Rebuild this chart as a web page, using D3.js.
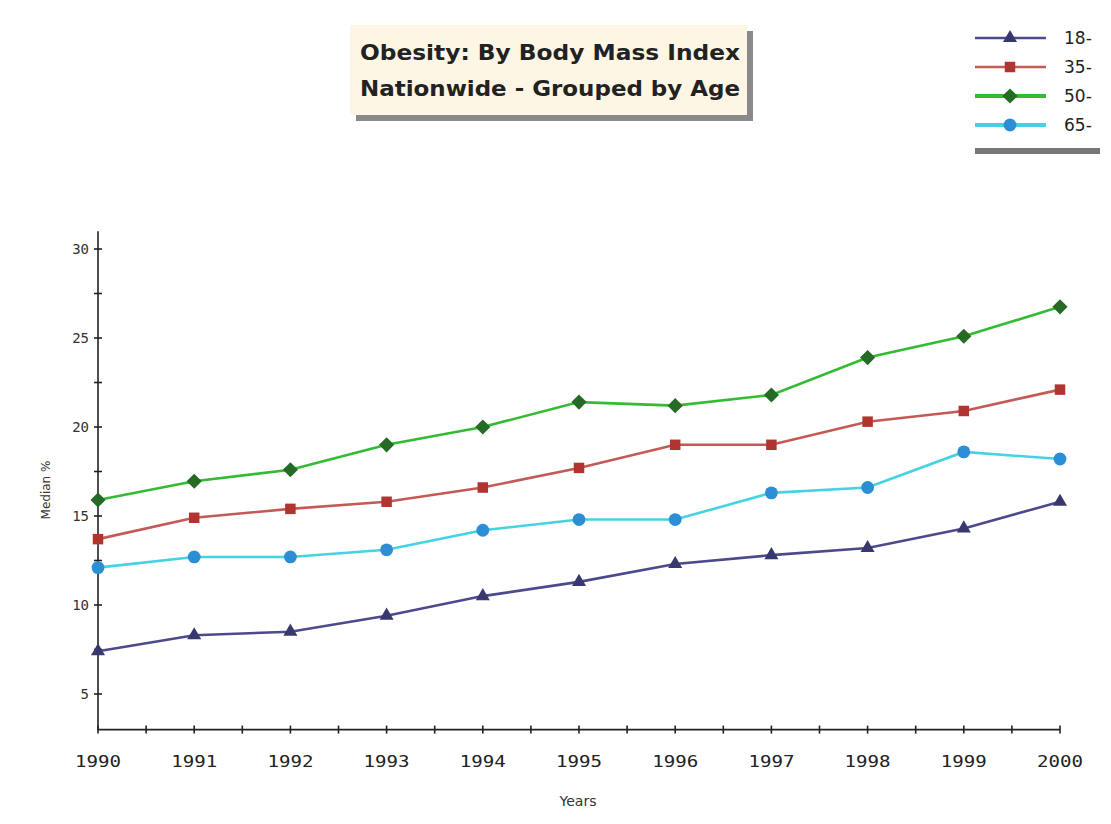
<!DOCTYPE html>
<html><head><meta charset="utf-8">
<script src="https://cdn.jsdelivr.net/npm/d3@7"></script>
<style>body{margin:0;background:#fff}svg{display:block}</style>
</head><body><svg id="c" width="1111" height="824"></svg>
<script>
const years = [1990,1991,1992,1993,1994,1995,1996,1997,1998,1999,2000];
const age18 = [7.4,8.3,8.5,9.4,10.5,11.3,12.3,12.8,13.2,14.3,15.8];
const age35 = [13.7,14.9,15.4,15.8,16.6,17.7,19.0,19.0,20.3,20.9,22.1];
const age50 = [15.9,16.95,17.6,19.0,20.0,21.4,21.2,21.8,23.9,25.1,26.75];
const age65 = [12.1,12.7,12.7,13.1,14.2,14.8,14.8,16.3,16.6,18.6,18.2];
const seriesNames = ["18-","35-","50-","65-"];
const yTicks = [5,10,15,20,25,30];
const titleLines = ["Obesity: By Body Mass Index","Nationwide - Grouped by Age"];

const series = [
  {name:seriesNames[0], values:age18, line:"#4b4a8c", mark:"#38376e", sym:d3.symbolTriangle, size:85, rot:0},
  {name:seriesNames[1], values:age35, line:"#c45a55", mark:"#b0342f", sym:d3.symbolSquare, size:110, rot:0},
  {name:seriesNames[2], values:age50, line:"#33bb33", mark:"#256b25", sym:d3.symbolSquare, size:115, rot:45},
  {name:seriesNames[3], values:age65, line:"#45d3e3", mark:"#2c8fd6", sym:d3.symbolCircle, size:130, rot:0}
];

const svg = d3.select("#c");
const x = d3.scaleLinear().domain([1990,2000]).range([98,1060]);
const y = d3.scaleLinear().domain([3,31]).range([729.6,231.2]);

// axes
const ax = svg.append("g").attr("stroke","#222").attr("stroke-width",1.6);
ax.append("line").attr("x1",x(1990)).attr("x2",x(2000)).attr("y1",y(3)).attr("y2",y(3));
ax.append("line").attr("x1",x(1990)).attr("x2",x(1990)).attr("y1",y(3)).attr("y2",y(31));
const xt = d3.range(1990,2000.01,0.5);
ax.selectAll(".xt").data(xt).join("line")
  .attr("x1",d=>x(d)).attr("x2",d=>x(d)).attr("y1",y(3)-4).attr("y2",y(3)+4);
const yt = d3.range(5,30.01,2.5);
ax.selectAll(".yt").data(yt).join("line")
  .attr("x1",x(1990)-4).attr("x2",x(1990)+4).attr("y1",d=>y(d)).attr("y2",d=>y(d));

svg.selectAll(".xl").data(years).join("text")
  .attr("x",d=>x(d)).attr("y",767).attr("text-anchor","middle")
  .attr("font-family","DejaVu Sans Mono").attr("font-size",16).attr("fill","#222")
  .attr("textLength",46).attr("lengthAdjust","spacingAndGlyphs")
  .text(d=>d);
svg.selectAll(".yl").data(yTicks).join("text")
  .attr("x",x(1990)-9).attr("y",d=>y(d)+5).attr("text-anchor","end")
  .attr("font-family","DejaVu Sans Mono").attr("font-size",14).attr("fill","#333")
  .text(d=>d);
svg.append("text").attr("x",578).attr("y",806).attr("text-anchor","middle")
  .attr("font-family","DejaVu Sans").attr("font-size",14).attr("fill","#333").text("Years");
svg.append("text").attr("transform","translate(50,490) rotate(-90)").attr("text-anchor","middle")
  .attr("font-family","DejaVu Sans").attr("font-size",12).attr("fill","#333").text("Median %");

// lines
const line = d3.line().x((d,i)=>x(years[i])).y(d=>y(d));
series.forEach(s=>{
  svg.append("path").attr("d",line(s.values)).attr("fill","none")
    .attr("stroke",s.line).attr("stroke-width",2.6);
  svg.selectAll(null).data(s.values).join("path")
    .attr("transform",(d,i)=>`translate(${x(years[i])},${y(d)}) rotate(${s.rot})`)
    .attr("d",d3.symbol().type(s.sym).size(s.size))
    .attr("fill",s.mark);
});

// title box
const tb = svg.append("g");
tb.append("rect").attr("x",356).attr("y",31).attr("width",397).attr("height",90).attr("fill","#8a8a8a");
tb.append("rect").attr("x",350).attr("y",25).attr("width",397).attr("height",90).attr("fill","#fdf6e4");
titleLines.forEach((t,i)=>{
  tb.append("text").attr("x",360).attr("y",60+i*36)
    .attr("font-family","DejaVu Sans").attr("font-weight","bold").attr("font-size",21)
    .attr("fill","#222").attr("textLength",380).attr("lengthAdjust","spacingAndGlyphs").text(t);
});

// legend
const lg = svg.append("g");
lg.append("rect").attr("x",975).attr("y",148).attr("width",125).attr("height",6).attr("fill","#777");
series.forEach((s,i)=>{
  const yy = 38 + i*29;
  lg.append("line").attr("x1",975).attr("x2",1046).attr("y1",yy).attr("y2",yy)
    .attr("stroke",s.line).attr("stroke-width",i>=2?4:2.5);
  lg.append("path").attr("transform",`translate(1010,${yy}) rotate(${s.rot})`)
    .attr("d",d3.symbol().type(s.sym).size(s.size)).attr("fill",s.mark);
  lg.append("text").attr("x",1064).attr("y",yy+6)
    .attr("font-family","DejaVu Sans").attr("font-size",17).attr("fill","#222").text(s.name);
});
</script></body></html>
